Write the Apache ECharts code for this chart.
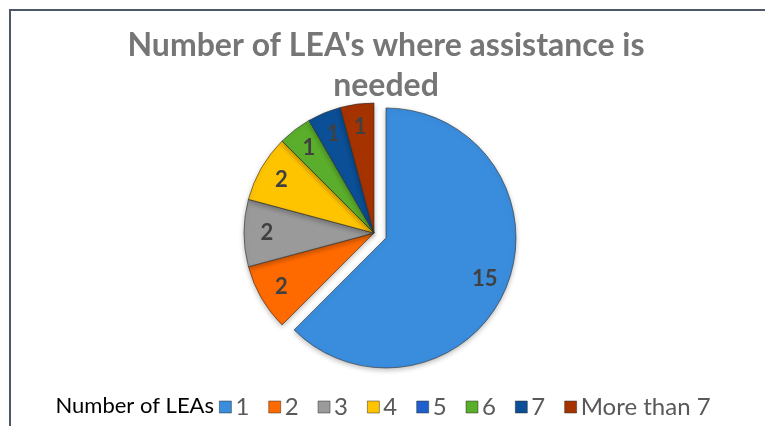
<!DOCTYPE html>
<html>
<head>
<meta charset="utf-8">
<script src="https://cdn.jsdelivr.net/npm/echarts@6/dist/echarts.min.js"></script>
<style>
  html, body { margin: 0; padding: 0; background: #ffffff; }
  #chart { width: 765px; height: 426px; }
</style>
</head>
<body>
<div id="chart"></div>
<script>
// Categories: how many LEAs need assistance
const categories = ['1', '2', '3', '4', '5', '6', '7', 'More than 7'];
// Count for each category
const counts = [15, 2, 2, 2, 0, 1, 1, 1];
// Slice colours, one per category
const colors = ['#3a8ddd', '#ff6a00', '#9a9a9a', '#ffc400', '#1f5fce', '#5bae2b', '#0b5096', '#a53300'];

const chartTitle = "Number of LEA's where assistance is\nneeded";
const legendTitle = 'Number of LEAs';

const chart = echarts.init(document.getElementById('chart'), null, { renderer: 'canvas' });

const pieCenter = [374, 233];
const pieRadius = 130;

const sliceData = categories.map((name, i) => ({
  name: name,
  value: counts[i],
  selected: i === 0,
  itemStyle: { color: colors[i] }
}));

const labelData = categories.map((name, i) => ({
  name: name,
  value: counts[i],
  selected: i === 0
}));

chart.setOption({
  backgroundColor: '#ffffff',
  animation: false,
  graphic: [
    {
      type: 'rect',
      shape: { x: 10, y: 10, width: 800, height: 480 },
      style: { fill: 'none', stroke: '#4d5868', lineWidth: 2 },
      z: -1
    },
    {
      type: 'text',
      right: 765 - 214,
      top: 395,
      style: {
        text: legendTitle,
        fill: '#000000',
        font: '22px Lato, "Open Sans", sans-serif'
      }
    }
  ],
  title: {
    text: chartTitle,
    left: 381,
    textAlign: 'center',
    top: 21,
    textStyle: {
      fontFamily: 'Lato, "Open Sans", sans-serif',
      fontWeight: 'bold',
      fontSize: 32,
      lineHeight: 40,
      color: '#767676'
    }
  },
  legend: {
    data: categories,
    left: 219,
    top: 395,
    padding: 0,
    itemWidth: 12,
    itemHeight: 12,
    itemGap: 19,
    selectedMode: false,
    icon: 'rect',
    itemStyle: { borderColor: 'rgba(40,40,40,0.6)', borderWidth: 0.8 },
    textStyle: {
      fontFamily: 'Lato, "Open Sans", sans-serif',
      fontSize: 24,
      color: '#595959',
      padding: [0, 0, 0, -1]
    }
  },
  series: [
    {
      type: 'pie',
      center: pieCenter,
      radius: pieRadius,
      startAngle: 90,
      clockwise: true,
      selectedMode: 'single',
      selectedOffset: 13,
      avoidLabelOverlap: false,
      label: { show: false },
      labelLine: { show: false },
      emphasis: { disabled: true },
      itemStyle: {
        borderColor: 'rgba(45,45,45,0.75)',
        borderWidth: 0.8,
        shadowBlur: 5,
        shadowColor: 'rgba(0,0,0,0.25)',
        shadowOffsetY: 2
      },
      data: sliceData
    },
    {
      // Transparent ring used only to place the value labels near the rim
      type: 'pie',
      center: pieCenter,
      radius: [pieRadius * 0.6, pieRadius],
      startAngle: 90,
      clockwise: true,
      selectedMode: 'single',
      selectedOffset: 13,
      silent: true,
      avoidLabelOverlap: false,
      legendHoverLink: false,
      emphasis: { disabled: true },
      itemStyle: { color: 'rgba(0,0,0,0)', borderWidth: 0 },
      label: {
        show: true,
        position: 'inside',
        formatter: p => (p.value ? String(p.value) : ''),
        fontFamily: 'Lato, "Open Sans", sans-serif',
        fontWeight: 'bold',
        fontSize: 22,
        color: '#404040'
      },
      labelLine: { show: false },
      data: labelData
    }
  ]
});
</script>
</body>
</html>
